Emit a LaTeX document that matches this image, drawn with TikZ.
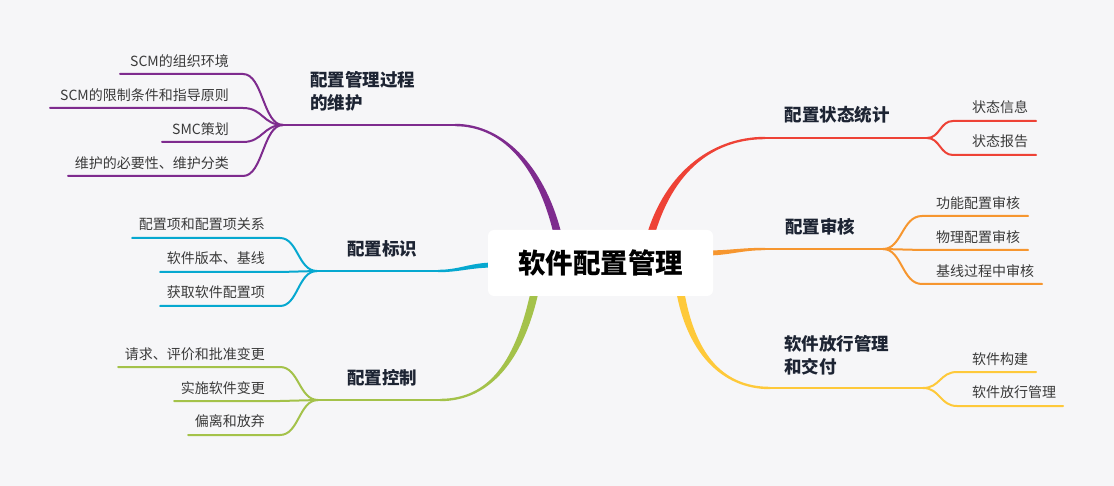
\documentclass[tikz,border=0pt]{standalone}
\usepackage{fontspec}
\setmainfont{Noto Sans CJK SC}
\definecolor{bg}{HTML}{F6F6F8}
\definecolor{cpurple}{HTML}{7E2B8E}
\definecolor{ccyan}{HTML}{06A8D0}
\definecolor{cgreen}{HTML}{A4C24A}
\definecolor{cred}{HTML}{EE4236}
\definecolor{corange}{HTML}{F6962F}
\definecolor{cyellow}{HTML}{FEC93A}
\definecolor{labcol}{HTML}{1D2433}
\definecolor{subcol}{HTML}{3A3A3A}
\begin{document}
\begin{tikzpicture}[x=1pt,y=-1pt,
  lab/.style={font=\fontsize{17.5}{23}\selectfont\bfseries, text=labcol, inner sep=0pt},
  subt/.style={font=\fontsize{14}{16}\selectfont, text=subcol, inner sep=0pt},
  subl/.style={line width=2pt, line cap=round},
  mainl/.style={line width=2.4pt}]
\useasboundingbox (0,0) rectangle (1114,486);
\fill[bg] (0,0) rectangle (1114,486);

% merge points
\coordinate (m1) at (283,125);
\coordinate (m2) at (317,271);
\coordinate (m3) at (318,400);
\coordinate (m4) at (927,138);
\coordinate (m5) at (883,249);
\coordinate (m6) at (923,388);
% main branch ends
\coordinate (e1) at (455,125);
\coordinate (e2) at (438,271);
\coordinate (e3) at (440,400);
\coordinate (e4) at (765,138);
\coordinate (e5) at (765,249);
\coordinate (e6) at (770,388);

% ---- purple
\fill[cpurple] (556,245) .. controls (541,170) and (505,126.2) .. (455,126.2) -- (455,123.8) .. controls (505,123.8) and (549,170) .. (564,245) -- cycle;
\draw[mainl, cpurple] (e1) -- (m1);
\coordinate (p1) at (120,74);
\coordinate (p2) at (50,108);
\coordinate (p3) at (162,142);
\coordinate (p4) at (68,176);
\draw[subl, cpurple] (m1) .. controls (263,125) and (263,74) .. (243,74) -- (p1);
\draw[subl, cpurple] (m1) .. controls (263,125) and (263,108) .. (243,108) -- (p2);
\draw[subl, cpurple] (m1) .. controls (263,125) and (263,142) .. (243,142) -- (p3);
\draw[subl, cpurple] (m1) .. controls (263,125) and (263,176) .. (243,176) -- (p4);

% ---- cyan
\fill[ccyan] (495,262.5) .. controls (470,262.5) and (460,269.8) .. (438,269.8) -- (438,272.2) .. controls (460,272.2) and (470,267.5) .. (495,267.5) -- cycle;
\draw[mainl, ccyan] (e2) -- (m2);
\coordinate (c1) at (132,238);
\coordinate (c2) at (160,272);
\coordinate (c3) at (160,306);
\draw[subl, ccyan] (m2) .. controls (298,271) and (298,238) .. (280,238) -- (c1);
\draw[subl, ccyan] (m2) .. controls (298,271) and (298,272) .. (280,272) -- (c2);
\draw[subl, ccyan] (m2) .. controls (298,271) and (298,306) .. (280,306) -- (c3);

% ---- green
\fill[cgreen] (531,290) .. controls (516,360) and (490,398.8) .. (440,398.8) -- (440,401.2) .. controls (490,401.2) and (524,360) .. (539,290) -- cycle;
\draw[mainl, cgreen] (e3) -- (m3);
\coordinate (g1) at (118,367);
\coordinate (g2) at (174,401);
\coordinate (g3) at (188,435);
\draw[subl, cgreen] (m3) .. controls (299,400) and (299,367) .. (280,367) -- (g1);
\draw[subl, cgreen] (m3) .. controls (299,400) and (299,401) .. (280,401) -- (g2);
\draw[subl, cgreen] (m3) .. controls (299,400) and (299,435) .. (280,435) -- (g3);

% ---- red
\fill[cred] (644,245) .. controls (661,175) and (710,136.8) .. (765,136.8) -- (765,139.2) .. controls (710,139.2) and (669,175) .. (652,245) -- cycle;
\draw[mainl, cred] (e4) -- (m4);
\coordinate (r1) at (1036,121);
\coordinate (r2) at (1036,155);
\draw[subl, cred] (m4) .. controls (940,138) and (940,121) .. (953,121) -- (r1);
\draw[subl, cred] (m4) .. controls (940,138) and (940,155) .. (953,155) -- (r2);

% ---- orange
\fill[corange] (705,250.5) .. controls (730,250.5) and (740,247.8) .. (765,247.8) -- (765,250.2) .. controls (740,250.2) and (730,255.5) .. (705,255.5) -- cycle;
\draw[mainl, corange] (e5) -- (m5);
\coordinate (o1) at (1028,216);
\coordinate (o2) at (1028,250);
\coordinate (o3) at (1042,284);
\draw[subl, corange] (m5) .. controls (902,249) and (902,216) .. (922,216) -- (o1);
\draw[subl, corange] (m5) .. controls (902,249) and (902,250) .. (922,250) -- (o2);
\draw[subl, corange] (m5) .. controls (902,249) and (902,284) .. (922,284) -- (o3);

% ---- yellow
\fill[cyellow] (676,290) .. controls (686,350) and (720,389.2) .. (770,389.2) -- (770,386.8) .. controls (720,386.8) and (694,350) .. (684,290) -- cycle;
\draw[mainl, cyellow] (e6) -- (m6);
\coordinate (y1) at (1036,372);
\coordinate (y2) at (1063,406);
\draw[subl, cyellow] (m6) .. controls (940,388) and (940,372) .. (957,372) -- (y1);
\draw[subl, cyellow] (m6) .. controls (940,388) and (940,406) .. (957,406) -- (y2);

% ---- root
\node[fill=white, rounded corners=6pt, minimum width=225pt, minimum height=66pt, inner sep=0pt,
  font=\fontsize{27.5}{30}\selectfont\bfseries, text=black] (root) at (600.5,263) {软件配置管理};

% ---- branch labels
\node[lab, anchor=west, align=left] (n1) at (310,91.5) {配置管理过程\\的维护};
\node[lab] (n2) at (382,249) {配置标识};
\node[lab] (n3) at (382,378) {配置控制};
\node[lab] (n4) at (837,115) {配置状态统计};
\node[lab] (n5) at (820,227) {配置审核};
\node[lab, anchor=west, align=left] (n6) at (784,355) {软件放行管理\\和交付};

% ---- sub labels
\node[subt, anchor=east] (t11) at (229,61) {SCM的组织环境};
\node[subt, anchor=east] (t12) at (229,95) {SCM的限制条件和指导原则};
\node[subt, anchor=east] (t13) at (229,129) {SMC策划};
\node[subt, anchor=east] (t14) at (229,163) {维护的必要性、维护分类};

\node[subt, anchor=east] (t21) at (265,224) {配置项和配置项关系};
\node[subt, anchor=east] (t22) at (265,258) {软件版本、基线};
\node[subt, anchor=east] (t23) at (265,292) {获取软件配置项};

\node[subt, anchor=east] (t31) at (265,354) {请求、评价和批准变更};
\node[subt, anchor=east] (t32) at (265,388) {实施软件变更};
\node[subt, anchor=east] (t33) at (265,421) {偏离和放弃};

\node[subt, anchor=west] (t41) at (972,107) {状态信息};
\node[subt, anchor=west] (t42) at (972,141) {状态报告};

\node[subt, anchor=west] (t51) at (936,203) {功能配置审核};
\node[subt, anchor=west] (t52) at (936,237) {物理配置审核};
\node[subt, anchor=west] (t53) at (936,271) {基线过程中审核};

\node[subt, anchor=west] (t61) at (972,359) {软件构建};
\node[subt, anchor=west] (t62) at (972,392) {软件放行管理};
\end{tikzpicture}
\end{document}
